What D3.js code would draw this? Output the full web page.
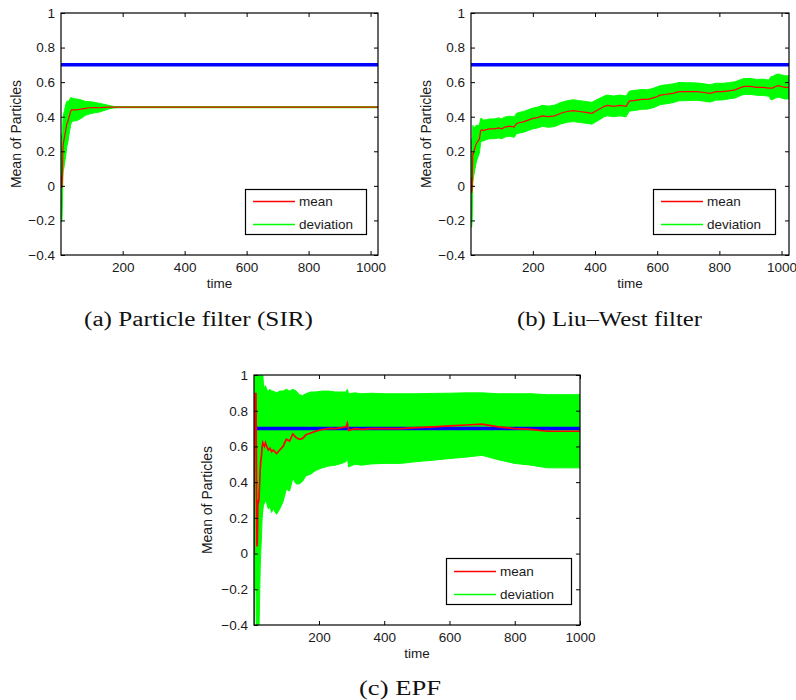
<!DOCTYPE html>
<html>
<head>
<meta charset="utf-8">
<script src="https://cdn.jsdelivr.net/npm/d3@7"></script>
<style>
  html, body { margin: 0; padding: 0; background: #fff; }
  svg { display: block; }
</style>
</head>
<body>
<svg id="chart" width="796" height="700"></svg>
<script>
// ---- shared axis values ----
const xTicks = [200, 400, 600, 800, 1000];
const yTicks = [-0.4, -0.2, 0, 0.2, 0.4, 0.6, 0.8, 1];
const yDomain = [-0.4, 1];
const trueValue = 0.7;
const legendLabels = ["mean", "deviation"];

// ---- (a) particle filter (SIR) ----
const sirTime = [1, 2, 3, 4, 5, 6, 7, 8, 10, 12, 14, 16, 18, 20, 23, 26, 29, 32, 35, 40, 50, 60, 70, 80, 95, 110, 125, 140, 155, 170, 185, 200, 1024];
const sirMean = [0.06, 0.02, -0.01, -0.01, 0.03, 0.12, 0.20, 0.24, 0.26, 0.28, 0.30, 0.32, 0.34, 0.36, 0.37, 0.39, 0.41, 0.43, 0.44, 0.44, 0.44, 0.442, 0.445, 0.448, 0.452, 0.453, 0.452, 0.454, 0.455, 0.455, 0.455, 0.455, 0.455];
const sirDev  = [0.24, 0.21, 0.20, 0.19, 0.18, 0.17, 0.16, 0.16, 0.16, 0.155, 0.15, 0.15, 0.14, 0.13, 0.12, 0.10, 0.09, 0.08, 0.07, 0.065, 0.063, 0.058, 0.05, 0.04, 0.035, 0.03, 0.025, 0.018, 0.01, 0.005, 0.003, 0.003, 0.003];

// ---- (b) Liu–West filter ----
const lwTime = [1, 2, 3, 4, 5, 6, 7, 8, 10, 12, 14, 17, 20, 24, 28, 32, 36, 40, 50, 60,
  75, 90, 100, 110, 125, 140, 147, 155, 170, 185, 200, 215, 230, 250, 270, 290, 310, 330, 350, 370,
  390, 410, 430, 440, 460, 480, 500, 510, 530, 550, 570, 590, 610, 630, 650, 670, 690, 710, 730, 750,
  770, 790, 810, 830, 850, 870, 880, 900, 920, 940, 960, 965, 970, 980, 990, 1000, 1010, 1024];
const lwMean = [0.05, -0.02, -0.04, -0.03, 0.00, 0.12, 0.19, 0.18, 0.20, 0.21, 0.22, 0.24, 0.25, 0.26, 0.27, 0.32, 0.325, 0.32, 0.325, 0.33,
  0.33, 0.335, 0.33, 0.34, 0.345, 0.34, 0.36, 0.365, 0.37, 0.38, 0.39, 0.395, 0.405, 0.40, 0.405, 0.42, 0.43, 0.435, 0.43, 0.425,
  0.42, 0.44, 0.46, 0.465, 0.46, 0.465, 0.46, 0.49, 0.495, 0.50, 0.50, 0.51, 0.525, 0.53, 0.535, 0.545, 0.545, 0.545, 0.545, 0.54,
  0.535, 0.545, 0.545, 0.55, 0.555, 0.57, 0.575, 0.575, 0.57, 0.57, 0.565, 0.565, 0.565, 0.575, 0.58, 0.575, 0.57, 0.57];
const lwDev  = [0.22, 0.21, 0.20, 0.19, 0.18, 0.17, 0.16, 0.15, 0.14, 0.13, 0.12, 0.11, 0.10, 0.09, 0.08, 0.07, 0.065, 0.06, 0.058, 0.057,
  0.057, 0.058, 0.058, 0.058, 0.058, 0.059, 0.059, 0.06, 0.06, 0.06, 0.06, 0.06, 0.061, 0.061, 0.062, 0.062, 0.062, 0.063, 0.063, 0.063,
  0.063, 0.062, 0.06, 0.06, 0.06, 0.06, 0.06, 0.058, 0.058, 0.057, 0.056, 0.056, 0.055, 0.055, 0.054, 0.053, 0.052, 0.051, 0.05, 0.05,
  0.05, 0.049, 0.048, 0.047, 0.047, 0.046, 0.046, 0.046, 0.046, 0.047, 0.047, 0.066, 0.067, 0.067, 0.067, 0.067, 0.067, 0.067];

// ---- (c) EPF ----
const epfTime = [1, 2, 3, 4, 5, 6, 7, 8, 9, 10, 11, 12, 13, 14, 16, 18, 20, 22, 24, 26,
  28, 30, 33, 36, 40, 45, 50, 55, 60, 70, 80, 90, 100, 110, 120, 130, 140, 150, 160, 175,
  190, 210, 230, 250, 270, 283, 287, 291, 310, 330, 360, 400, 450, 500, 550, 600, 650, 700, 750, 800, 850,
  900, 950, 1000];
const epfMean = [0.00, 0.45, 0.90, 0.88, 0.80, 0.85, 0.90, 0.60, 0.30, 0.04, 0.05, 0.15, 0.30, 0.28, 0.30, 0.38, 0.47, 0.52, 0.55, 0.60,
  0.62, 0.61, 0.60, 0.62, 0.60, 0.58, 0.59, 0.57, 0.58, 0.56, 0.58, 0.60, 0.64, 0.63, 0.67, 0.65, 0.64, 0.645, 0.665, 0.675,
  0.685, 0.695, 0.70, 0.70, 0.705, 0.71, 0.73, 0.69, 0.70, 0.695, 0.70, 0.70, 0.70, 0.705, 0.71, 0.715, 0.72, 0.725, 0.71, 0.70, 0.695,
  0.685, 0.685, 0.685];
const epfDev  = [1.0, 1.0, 1.0, 1.0, 1.0, 1.0, 1.0, 1.0, 1.0, 1.0, 1.0, 0.95, 0.9, 0.85, 0.75, 0.65, 0.55, 0.50, 0.45, 0.40,
  0.38, 0.34, 0.32, 0.32, 0.32, 0.33, 0.33, 0.34, 0.33, 0.34, 0.33, 0.31, 0.28, 0.28, 0.25, 0.26, 0.25, 0.24, 0.23, 0.23,
  0.22, 0.215, 0.21, 0.205, 0.20, 0.195, 0.19, 0.205, 0.20, 0.20, 0.198, 0.195, 0.195, 0.19, 0.187, 0.183, 0.18, 0.175, 0.185, 0.195, 0.2,
  0.205, 0.205, 0.205];

// ---- styling ----
const GREEN = "#00ff00", RED = "#ff0000", BLUE = "#0000ff", INK = "#1a1a1a";
const SANS = "'Liberation Sans', Arial, Helvetica, sans-serif";
const SERIF = "'Liberation Serif', 'Times New Roman', serif";
const FONT = "13.5px";

const panels = [
  { id: "a", time: sirTime, mean: sirMean, dev: sirDev, xDomain: [1, 1024],
    box: { l: 61, r: 378, t: 13, b: 255 }, meanWidth: 1.2,
    legend: { x: 245, y: 189, w: 121, h: 45 },
    caption: { text: "(a)  Particle filter (SIR)", cx: 198.5, y: 326, w: 229 },
    ylabelX: 20.5, xlabelY: 288 },
  { id: "b", time: lwTime, mean: lwMean, dev: lwDev, xDomain: [1, 1024],
    box: { l: 471, r: 789, t: 13, b: 255 }, meanWidth: 1.2,
    legend: { x: 653, y: 189, w: 122, h: 45 },
    caption: { text: "(b)  Liu–West filter", cx: 609.5, y: 326, w: 185 },
    ylabelX: 431, xlabelY: 288 },
  { id: "c", time: epfTime, mean: epfMean, dev: epfDev, xDomain: [1, 1000],
    box: { l: 254, r: 580, t: 375, b: 625 }, meanWidth: 1.7,
    legend: { x: 446, y: 558, w: 125, h: 46 },
    caption: { text: "(c)  EPF", cx: 400, y: 695, w: 82 },
    ylabelX: 212, xlabelY: 658 }
];

const svg = d3.select("#chart");
const defs = svg.append("defs");

function styleAxis(sel) {
  sel.select(".domain").remove();
  sel.selectAll(".tick line").attr("stroke", "#000").attr("stroke-width", 1);
  sel.selectAll(".tick text")
    .attr("fill", INK)
    .style("font-family", SANS)
    .style("font-size", FONT);
}

function drawPanel(p) {
  const { l, r, t, b } = p.box;
  const x = d3.scaleLinear().domain(p.xDomain).range([l, r]);
  const y = d3.scaleLinear().domain(yDomain).range([b, t]);
  const pts = p.time.map((tm, i) => ({ t: tm, m: p.mean[i], d: p.dev[i] }));

  defs.append("clipPath").attr("id", "clip-" + p.id)
    .append("rect").attr("x", l).attr("y", t).attr("width", r - l).attr("height", b - t);

  const g = svg.append("g");
  const plot = g.append("g").attr("clip-path", `url(#clip-${p.id})`);

  // deviation band (mean ± dev)
  plot.append("path").datum(pts)
    .attr("d", d3.area().x(d => x(d.t)).y0(d => y(d.m - d.d)).y1(d => y(d.m + d.d)))
    .attr("fill", GREEN).attr("stroke", GREEN).attr("stroke-width", 1);

  // line through the error-bar centres
  plot.append("path").datum(pts)
    .attr("d", d3.line().x(d => x(d.t)).y(d => y(d.m)))
    .attr("fill", "none").attr("stroke", GREEN).attr("stroke-width", 1.5);

  // true parameter value
  plot.append("line")
    .attr("x1", x(p.xDomain[0])).attr("x2", x(p.xDomain[1]))
    .attr("y1", y(trueValue)).attr("y2", y(trueValue))
    .attr("stroke", BLUE).attr("stroke-width", 3.5);

  // estimated mean
  plot.append("path").datum(pts)
    .attr("d", d3.line().x(d => x(d.t)).y(d => y(d.m)))
    .attr("fill", "none").attr("stroke", RED).attr("stroke-width", p.meanWidth)
    .attr("stroke-linejoin", "miter");

  // axes: ticks point inward on all four sides
  g.append("g").attr("transform", `translate(0,${b})`)
    .call(d3.axisBottom(x).tickValues(xTicks).tickSize(-4).tickPadding(7).tickFormat(d3.format("d")))
    .call(styleAxis);
  g.append("g").attr("transform", `translate(0,${t})`)
    .call(d3.axisTop(x).tickValues(xTicks).tickSize(-4).tickFormat(""))
    .call(styleAxis);
  g.append("g").attr("transform", `translate(${l},0)`)
    .call(d3.axisLeft(y).tickValues(yTicks).tickSize(-4).tickPadding(6).tickFormat(d3.format("")))
    .call(styleAxis);
  g.append("g").attr("transform", `translate(${r},0)`)
    .call(d3.axisRight(y).tickValues(yTicks).tickSize(-4).tickFormat(""))
    .call(styleAxis);

  g.append("rect")
    .attr("x", l).attr("y", t).attr("width", r - l).attr("height", b - t)
    .attr("fill", "none").attr("stroke", "#000").attr("stroke-width", 1.2);

  // axis titles
  g.append("text")
    .attr("x", (l + r) / 2).attr("y", p.xlabelY)
    .attr("text-anchor", "middle").attr("fill", INK)
    .style("font-family", SANS).style("font-size", FONT)
    .text("time");
  g.append("text")
    .attr("transform", `translate(${p.ylabelX},${(t + b) / 2}) rotate(-90)`)
    .attr("text-anchor", "middle").attr("fill", INK)
    .style("font-family", SANS).style("font-size", "14px")
    .text("Mean of Particles");

  // legend
  const lg = g.append("g").attr("transform", `translate(${p.legend.x},${p.legend.y})`);
  lg.append("rect").attr("x", 0.5).attr("y", 0.5)
    .attr("width", p.legend.w).attr("height", p.legend.h)
    .attr("fill", "#fff").attr("stroke", "#000").attr("stroke-width", 1.2);
  const rowH = p.legend.h / 2;
  [RED, GREEN].forEach((c, i) => {
    const cy = Math.round(rowH * (i + 0.5)) + 1.5;
    lg.append("line").attr("x1", 8).attr("x2", 50).attr("y1", cy).attr("y2", cy)
      .attr("stroke", c).attr("stroke-width", 1.5);
    lg.append("text").attr("x", 54).attr("y", cy).attr("dy", "0.35em")
      .attr("fill", INK).style("font-family", SANS).style("font-size", FONT)
      .text(legendLabels[i]);
  });

  // sub-figure caption
  svg.append("text")
    .attr("x", p.caption.cx).attr("y", p.caption.y)
    .attr("text-anchor", "middle").attr("fill", "#111")
    .attr("textLength", p.caption.w).attr("lengthAdjust", "spacingAndGlyphs")
    .style("font-family", SERIF).style("font-size", "20px")
    .text(p.caption.text);
}

panels.forEach(drawPanel);
</script>
</body>
</html>
